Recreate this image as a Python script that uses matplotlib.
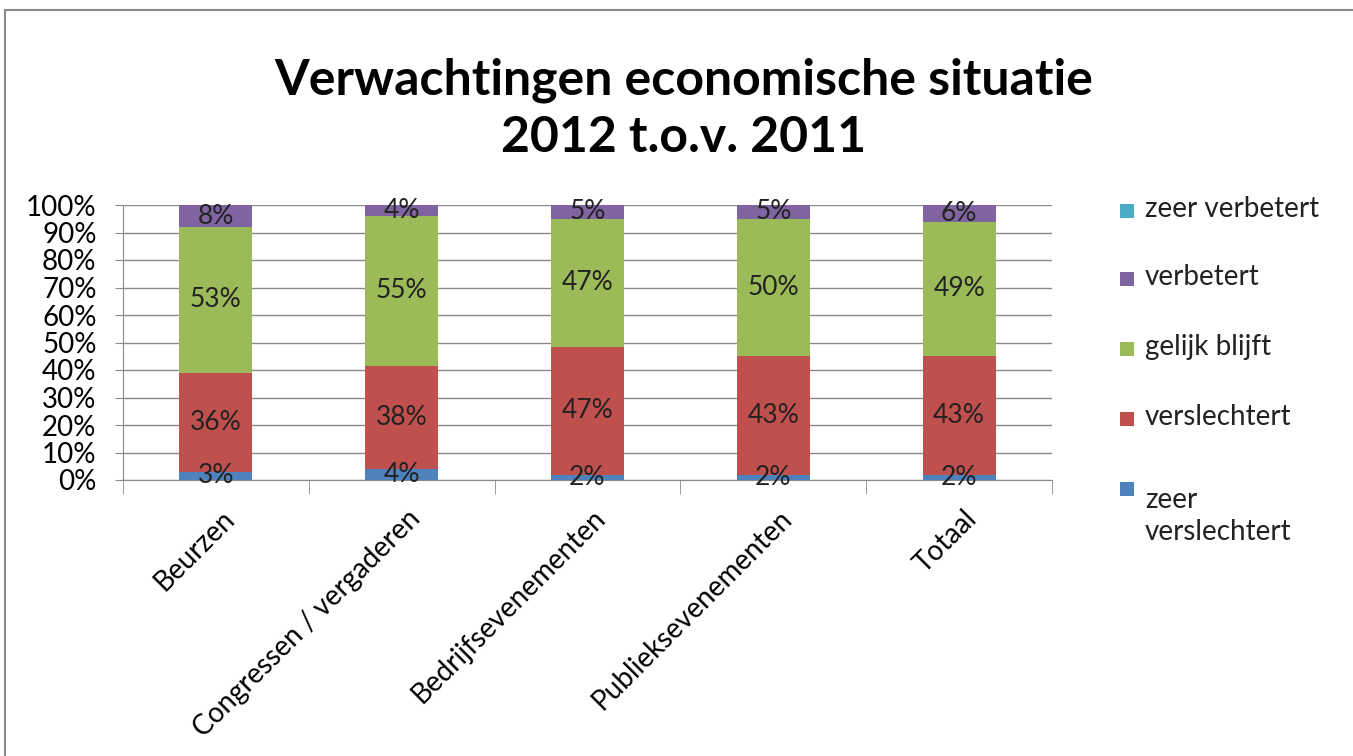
import matplotlib
matplotlib.use("Agg")
import matplotlib.pyplot as plt
import matplotlib.transforms as mtransforms
import numpy as np
from matplotlib.patches import Rectangle

categories = ["Beurzen", "Congressen / vergaderen", "Bedrijfsevenementen",
              "Publieksevenementen", "Totaal"]
zeer_verslechtert = [3, 4, 2, 2, 2]
verslechtert = [36, 38, 47, 43, 43]
gelijk_blijft = [53, 55, 47, 50, 49]
verbetert = [8, 4, 5, 5, 6]
zeer_verbetert = [0, 0, 0, 0, 0]

series_names = ["zeer verslechtert", "verslechtert", "gelijk blijft", "verbetert", "zeer verbetert"]
series_vals = [zeer_verslechtert, verslechtert, gelijk_blijft, verbetert, zeer_verbetert]
colors = ["#4F81BD", "#C0504D", "#9BBB59", "#8064A2", "#4BACC6"]
yticks = [0, 10, 20, 30, 40, 50, 60, 70, 80, 90, 100]
legend_labels = ["zeer verbetert", "verbetert", "gelijk blijft", "verslechtert", "zeer\nverslechtert"]

plt.rcParams['font.family'] = ['Lato', 'DejaVu Sans']

W, H = 1353, 756
fig = plt.figure(figsize=(W/100, H/100), dpi=100)
ax = fig.add_axes([123/W, 1-480/H, (1052-123)/W, (480-205)/H])

data = np.array(series_vals, dtype=float)
totals = data.sum(axis=0)
pct = data / totals * 100
x = np.arange(len(categories))
bottom = np.zeros(len(categories))
for name, vals, raw, c in zip(series_names, pct, data, colors):
    ax.bar(x, vals, bottom=bottom, width=0.393, color=c, zorder=3, label=name)
    for xi, v, b, r in zip(x, vals, bottom, raw):
        if r > 0:
            ax.text(xi, b + v/2, f"{int(r)}%", ha="center", va="center",
                    fontsize=19, color="#222222", zorder=4)
    bottom += vals

ax.set_xlim(-0.5, len(categories) - 0.5)
ax.set_ylim(0, 100)
ax.set_yticks(yticks)
ax.set_yticklabels([f"{t}%" for t in yticks], fontsize=20)
ax.yaxis.grid(True, color="#8a8a8a", linewidth=1, zorder=0)
ax.set_axisbelow(True)
for s in ["top", "right"]:
    ax.spines[s].set_visible(False)
for s in ["left", "bottom"]:
    ax.spines[s].set_color("#8a8a8a")
ax.tick_params(axis="y", length=6, color="#8a8a8a", pad=13)
ax.set_xticks(x)
ax.set_xticklabels(categories, rotation=45, ha="right", rotation_mode="anchor", fontsize=20)
ax.tick_params(axis="x", length=0, pad=18)
for lbl in ax.get_xticklabels():
    lbl.set_transform(lbl.get_transform() + mtransforms.ScaledTranslation(5/100, 0, fig.dpi_scale_trans))
ax.set_xticks(np.arange(-0.5, len(categories)), minor=True)
ax.tick_params(axis="x", which="minor", length=10, color="#8a8a8a")

fig.text(0.505, 1-80/H, "Verwachtingen economische situatie", ha="center", va="center",
         fontsize=36, fontweight="bold")
fig.text(0.505, 1-137/H, "2012 t.o.v. 2011", ha="center", va="center",
         fontsize=36, fontweight="bold")

# legend (top to bottom: reversed series order)
leg_rows = [211, 279, 349, 419, 489]
for yrow, c, lab in zip(leg_rows, colors[::-1], legend_labels):
    fig.patches.append(Rectangle((1120/W, 1-(yrow+7)/H), 14/W, 14/H, transform=fig.transFigure,
                                 facecolor=c, edgecolor="none"))
    fig.text(1145/W, 1-(yrow-2)/H, lab, ha="left", va="top" if "\n" in lab else "center",
             fontsize=20, color="#222222", linespacing=1.3)

fig.patches.append(Rectangle((5/W, -0.1), 1.2, 1-10/H+0.1, transform=fig.transFigure,
                             fill=False, edgecolor="#8a8a8a", linewidth=1.5))

fig.savefig("out.png", dpi=100)
